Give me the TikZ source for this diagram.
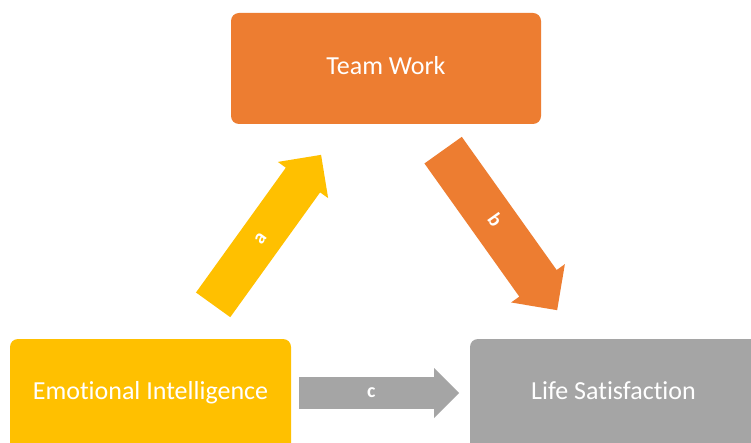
\documentclass[tikz,border=0pt]{standalone}
\usepackage{fontspec}
\setmainfont[Ligatures={NoCommon}]{Carlito}
\usetikzlibrary{shapes.arrows}
\definecolor{orng}{HTML}{ED7D31}
\definecolor{yell}{HTML}{FFC000}
\definecolor{gry}{HTML}{A5A5A5}
\begin{document}
\begin{tikzpicture}[x=1pt,y=-1pt,
  boxtext/.style={text=white, font=\fontsize{26}{30}\selectfont, inner sep=0pt,
    text height=16.7pt, text depth=0pt},
  blockarrow/.style={single arrow, draw=none, anchor=tail, inner xsep=0pt,
    text=white, font=\bfseries\fontsize{20}{24}\selectfont,
    text height=9pt, text depth=0pt, single arrow tip angle=90}]
\useasboundingbox (0,0) rectangle (751,443);
\fill[white] (0,0) rectangle (751,443);
% boxes
\fill[orng, rounded corners=8pt] (231,13) rectangle (541,124);
\fill[yell, rounded corners=8pt] (10,460) -- (10,339) -- (291,339) -- (291,460);
\fill[gry, rounded corners=8pt] (470,460) -- (470,339) -- (770,339) -- (770,460);
\node[boxtext] (tw) at (386,66) {Team Work};
\node[boxtext] (ei) at (150.5,391.5) {Emotional Intelligence};
\node[boxtext] (ls) at (613.5,391.5) {Life Satisfaction};
% arrow end points
\coordinate (atail) at (213,305);
\coordinate (btail) at (443,150);
\coordinate (ctail) at (299,393);
% block arrows
\node[blockarrow, fill=yell, rotate=54.25, minimum height=184.8pt,
  minimum width=62pt, inner ysep=10.5pt] (arra) at (atail) {a};
\node[blockarrow, fill=orng, rotate=-54.53, minimum height=196.5pt,
  minimum width=66pt, inner ysep=11.5pt] (arrb) at (btail) {b};
\node[blockarrow, fill=gry, minimum height=160pt,
  minimum width=50pt, inner ysep=7.5pt] (arrc) at (ctail) {c};
\end{tikzpicture}
\end{document}
